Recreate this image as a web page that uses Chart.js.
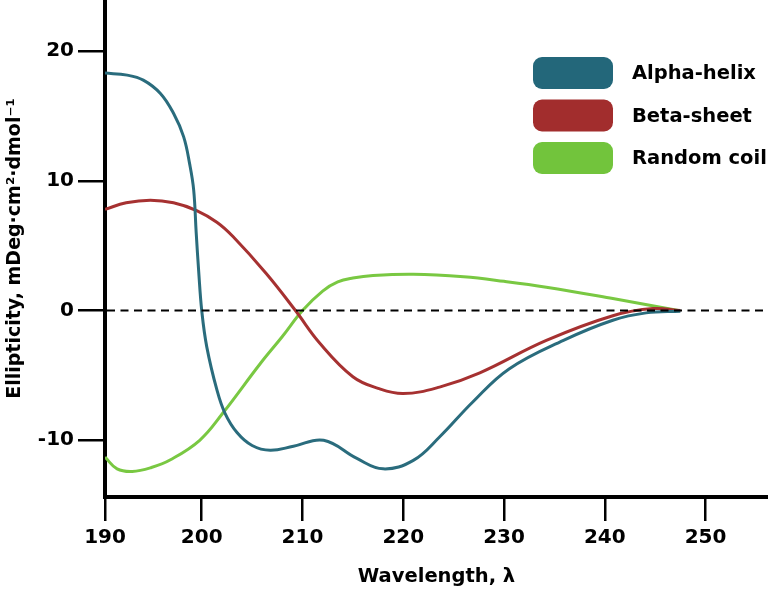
<!DOCTYPE html>
<html>
<head>
<meta charset="utf-8">
<script src="https://cdn.jsdelivr.net/npm/chart.js@4/dist/chart.umd.min.js"></script>
<style>
  html, body { margin: 0; padding: 0; background: #fff; }
  #wrap { width: 768px; height: 589px; }
</style>
</head>
<body>
<div id="wrap"><canvas id="myCanvas"></canvas></div>
<script>
// wavelength (nm), ellipticity
const alphaHelix = [
    [190.4, 18.3], [192.6, 18.14], [194.2, 17.76], [195.9, 16.73], [197.2, 15.2],
    [198.2, 13.4], [198.8, 11.3], [199.2, 9.3], [199.45, 6.0], [199.7, 3.0],
    [200.0, 0], [200.5, -2.8], [201.5, -6.1], [202.3, -7.9], [203.5, -9.4],
    [205, -10.4], [206.8, -10.77], [209.1, -10.46], [212.1, -10.0],
    [215.4, -11.4], [218.0, -12.2], [221, -11.55], [223.6, -9.75],
    [226.9, -7.05], [230.5, -4.5], [235.9, -2.3], [240.8, -0.75], [244.1, -0.18],
    [247.5, -0.05]
];
const betaSheet = [
    [190.4, 7.8], [192.5, 8.3], [194.9, 8.5], [197.2, 8.3], [199.5, 7.7],
    [201.5, 6.8], [203.1, 5.7], [206.4, 2.85], [209.3, 0], [211.7, -2.5],
    [215, -5.1], [217.5, -6.0], [220, -6.4], [223.6, -5.9], [227.6, -4.8],
    [234.2, -2.3], [240.8, -0.4], [244.8, 0.15], [247.5, 0]
];
const randomCoil = [
    [190.4, -11.3], [191.6, -12.2], [193.1, -12.4], [195, -12.1], [196.9, -11.5],
    [199.8, -10.0], [202.1, -7.9], [205.8, -4.1], [208, -2.0], [210, 0],
    [212, 1.5], [213.5, 2.2], [215, 2.5], [217, 2.7], [221, 2.8],
    [226, 2.6], [230, 2.25], [234.2, 1.8], [240.8, 0.92], [247.3, 0]
];
const seriesNames = ["Alpha-helix", "Beta-sheet", "Random coil"];
const wavelengthTicks = [190, 200, 210, 220, 230, 240, 250];
const ellipticityTicks = [-10, 0, 10, 20];

const lineColors = ["#2a6c7d", "#a63131", "#79c842"];
const boxColors = ["#23677a", "#a22d2d", "#72c43c"];
const fontFamily = "'DejaVu Sans', Verdana, sans-serif";

const toPoints = arr => arr.map(p => ({ x: p[0], y: p[1] }));

const zeroLinePlugin = {
    id: "zeroLine",
    afterDatasetsDraw(chart) {
        const ctx = chart.ctx;
        const area = chart.chartArea;
        const y = chart.scales.y.getPixelForValue(0);
        ctx.save();
        ctx.strokeStyle = "#000";
        ctx.lineWidth = 2;
        ctx.setLineDash([8, 5.5]);
        ctx.beginPath();
        ctx.moveTo(area.left + 2, y);
        ctx.lineTo(area.right, y);
        ctx.stroke();
        ctx.restore();
    }
};

const boxLegendPlugin = {
    id: "boxLegend",
    afterDraw(chart) {
        const ctx = chart.ctx;
        ctx.save();
        chart.data.datasets.forEach((ds, i) => {
            const top = 57 + i * 42.5;
            ctx.fillStyle = boxColors[i];
            ctx.beginPath();
            ctx.roundRect(533, top, 80, 32, 9);
            ctx.fill();
            ctx.fillStyle = "#000";
            ctx.font = "bold 19.5px " + fontFamily;
            ctx.textBaseline = "middle";
            ctx.fillText(ds.label, 632, top + 17);
        });
        ctx.restore();
    }
};

const myCanvas = document.getElementById("myCanvas");

const gChart = new Chart(myCanvas, {
    type: "line",
    data: {
        datasets: [alphaHelix, betaSheet, randomCoil].map((s, i) => ({
            label: seriesNames[i],
            data: toPoints(s),
            borderColor: lineColors[i],
            borderWidth: 3,
            pointRadius: 0,
            tension: 0.4,
            fill: false
        }))
    },
    options: {
        responsive: true,
        maintainAspectRatio: false,
        animation: false,
        layout: { padding: 0 },
        plugins: {
            legend: { display: false },
            tooltip: { enabled: false }
        },
        scales: {
            x: {
                type: "linear",
                min: 190.4,
                max: 256.2,
                afterBuildTicks: axis => {
                    axis.ticks = wavelengthTicks.map(v => ({ value: Math.max(v, axis.min) }));
                },
                afterFit: axis => {
                    axis.height = 92;
                    axis.paddingLeft = 0;
                    axis.paddingRight = 0;
                },
                ticks: {
                    autoSkip: false,
                    maxRotation: 0,
                    padding: 5,
                    color: "#000",
                    font: { family: fontFamily, size: 20, weight: "bold" },
                    callback: (value, index) => wavelengthTicks[index]
                },
                grid: {
                    drawOnChartArea: false,
                    drawTicks: true,
                    tickLength: 24,
                    color: "#000",
                    lineWidth: 2.5
                },
                border: { display: true, color: "#000", width: 4 },
                title: {
                    display: true,
                    text: "Wavelength, λ",
                    color: "#000",
                    padding: { top: 0, bottom: 0 },
                    font: { family: fontFamily, size: 19.5, weight: "bold" }
                }
            },
            y: {
                type: "linear",
                min: -14.37,
                max: 23.93,
                afterBuildTicks: axis => {
                    axis.ticks = ellipticityTicks.map(v => ({ value: v }));
                },
                afterFit: axis => {
                    axis.width = 105;
                    axis.paddingTop = 0;
                    axis.paddingBottom = 0;
                },
                ticks: {
                    padding: 4,
                    color: "#000",
                    font: { family: fontFamily, size: 20, weight: "bold" }
                },
                grid: {
                    drawOnChartArea: false,
                    drawTicks: true,
                    tickLength: 27,
                    color: "#000",
                    lineWidth: 2.5
                },
                border: { display: true, color: "#000", width: 4 },
                title: {
                    display: true,
                    text: "Ellipticity, mDeg·cm²·dmol⁻¹",
                    color: "#000",
                    padding: { top: 4, bottom: 0 },
                    font: { family: fontFamily, size: 19, weight: "bold" }
                }
            }
        }
    },
    plugins: [zeroLinePlugin, boxLegendPlugin]
});
</script>
</body>
</html>
